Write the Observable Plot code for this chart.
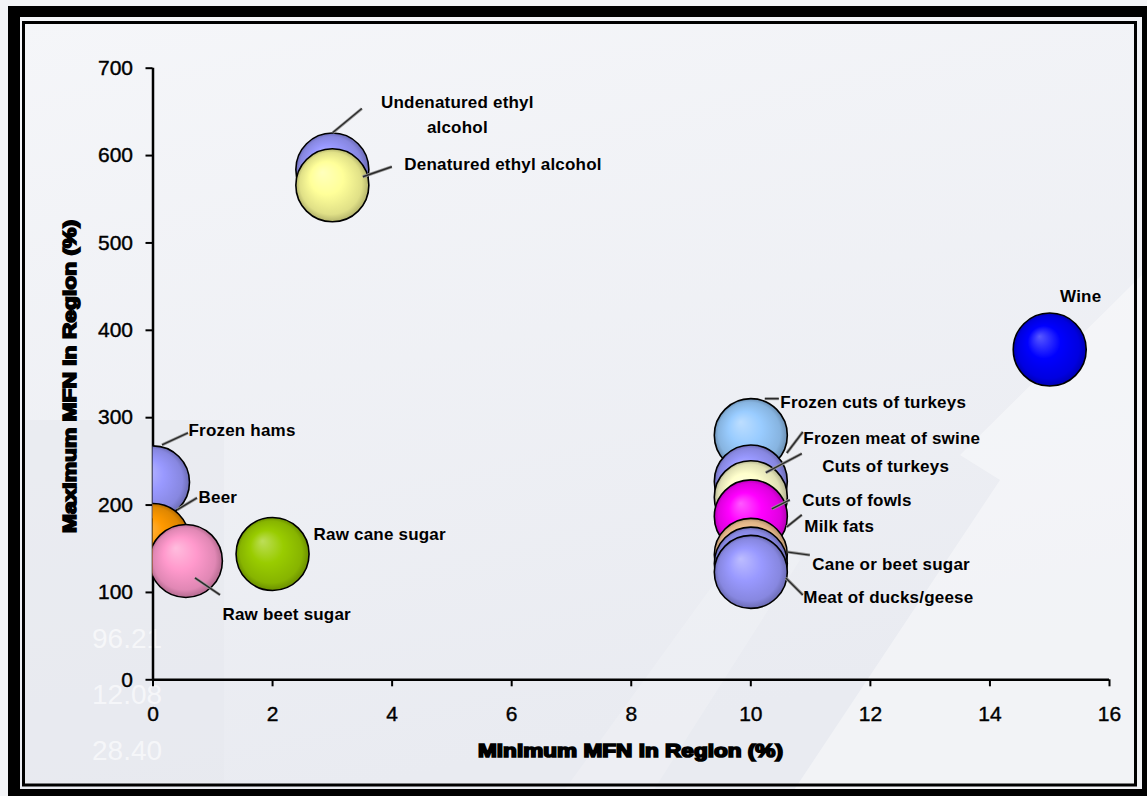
<!DOCTYPE html>
<html>
<head>
<meta charset="utf-8">
<script src="https://cdn.jsdelivr.net/npm/d3@7"></script>
<script src="https://cdn.jsdelivr.net/npm/@observablehq/plot@0.6"></script>
<style>
  body { margin: 0; background: #f3f4f7; }
  #wrap { position: relative; width: 1147px; height: 796px; overflow: hidden; }
  #bg, #chart, #frame { position: absolute; left: 0; top: 0; }
</style>
</head>
<body>
<div id="wrap">
  <svg id="bg" width="1147" height="796"></svg>
  <div id="chart"></div>
  <svg id="frame" width="1147" height="796" style="pointer-events:none"></svg>
</div>
<script>
// ---------------- data ----------------
const products = [
  "Undenatured ethyl\nalcohol", "Denatured ethyl alcohol", "Wine",
  "Frozen cuts of turkeys", "Frozen meat of swine", "Cuts of turkeys",
  "Cuts of fowls", "Milk fats", "Cane or beet sugar", "Meat of ducks/geese",
  "Frozen hams", "Beer", "Raw cane sugar", "Raw beet sugar"
];
const minMFN = [3, 3, 15, 10, 10, 10, 10, 10, 10, 10, 0, 0, 2, 0.55];
const maxMFN = [584, 566, 378, 280, 227, 209, 187, 143, 133, 123.5, 226, 160, 144, 136];
const bubbleColors = [
  "#9999ff", "#ffff99", "#0000ff",
  "#99ccff", "#9999ff", "#ffffcc",
  "#ff00ff", "#ffcc99", "#9999ff", "#9999ff",
  "#9999ff", "#ff9900", "#99cc00", "#ff99cc"
];
const xTicks = [0, 2, 4, 6, 8, 10, 12, 14, 16];
const yTicks = [0, 100, 200, 300, 400, 500, 600, 700];
const xTitle = "Minimum MFN in Region (%)";
const yTitle = "Maximum MFN in Region (%)";
const watermarkNumbers = ["96.21", "12.08", "28.40"];

// ---------------- label layout (pixel offsets from bubble centre) ----------------
const labelLayout = [
  {dx: 125, dy: -57, anchor: "middle", leader: [1, -36.5, 30, -60.5]},
  {dx: 72, dy: -23, anchor: "start", leader: [31, -8, 60, -18]},
  {dx: 31, dy: -56, anchor: "middle", leader: null},
  {dx: 29.5, dy: -35, anchor: "start", leader: [14.5, -36, 28.5, -36]},
  {dx: 52.5, dy: -45, anchor: "start", leader: [36.5, -28, 52.5, -49]},
  {dx: 71.5, dy: -33, anchor: "start", leader: [15.5, -24, 51.5, -43]},
  {dx: 51.5, dy: -18, anchor: "start", leader: [21.5, -7, 39.5, -16]},
  {dx: 53.5, dy: -30.5, anchor: "start", leader: [36.5, -27.5, 51.5, -39.5]},
  {dx: 61.5, dy: -2, anchor: "start", leader: [37.5, -11, 59.5, -8]},
  {dx: 52.5, dy: 23.5, anchor: "start", leader: [35.5, 6.5, 52.5, 23.5]},
  {dx: 35.5, dy: -54, anchor: "start", leader: [9.5, -37, 35.5, -49]},
  {dx: 45.5, dy: -44.6, anchor: "start", leader: [24.5, -29.6, 44.5, -41.6]},
  {dx: 41, dy: -21.6, anchor: "start", leader: null},
  {dx: 36.6, dy: 51.4, anchor: "start", leader: [9.6, 17.4, 34.6, 34.4]}
];

// ---------------- background & gradients ----------------
const bg = d3.select("#bg");
const defs = bg.append("defs");
const bgGrad = defs.append("linearGradient").attr("id", "bgGrad").attr("x1", 0).attr("y1", 0).attr("x2", 0.3).attr("y2", 1);
bgGrad.append("stop").attr("offset", "0%").attr("stop-color", "#f5f6f9");
bgGrad.append("stop").attr("offset", "100%").attr("stop-color", "#e9ebf1");
bubbleColors.forEach((c, i) => {
  const g = defs.append("radialGradient").attr("id", `bub${i}`)
    .attr("cx", "50%").attr("cy", "50%").attr("r", "50%").attr("fx", "36%").attr("fy", "32%");
  g.append("stop").attr("offset", "0%").attr("stop-color", d3.interpolateRgb(c, "#ffffff")(0.35));
  g.append("stop").attr("offset", "45%").attr("stop-color", c);
  g.append("stop").attr("offset", "85%").attr("stop-color", d3.interpolateRgb(c, "#000000")(0.12));
  g.append("stop").attr("offset", "100%").attr("stop-color", d3.interpolateRgb(c, "#000000")(0.3));
});
bg.append("rect").attr("width", 1147).attr("height", 796).attr("fill", "#f3f4f7");
bg.append("rect").attr("x", 20).attr("y", 17).attr("width", 1122).attr("height", 772).attr("fill", "url(#bgGrad)");
// faint watermark shapes (rising arrow)
bg.append("path").attr("d", "M790,796 L1000,480 L960,455 L1147,270 L1147,796 Z").attr("fill", "#ffffff").attr("opacity", 0.4);
bg.append("path").attr("d", "M560,796 L760,520 L800,560 L650,796 Z").attr("fill", "#ffffff").attr("opacity", 0.18);
bg.append("rect").attr("x", 24).attr("y", 420).attr("width", 200).attr("height", 362).attr("fill", "#e6e8ee").attr("opacity", 0.5);
watermarkNumbers.forEach((t, k) => {
  bg.append("text").attr("x", 92).attr("y", 648 + k * 56).text(t)
    .attr("font-family", "'Liberation Sans', Arial, sans-serif").attr("font-size", 28)
    .attr("fill", "#ffffff").attr("opacity", 0.6);
});

// ---------------- chart ----------------
const data = products.map((name, i) => ({name, x: minMFN[i], y: maxMFN[i], fill: `url(#bub${i})`}));

const labelMarks = data.map((d, i) => Plot.text([d], {
  x: "x", y: "y", text: "name",
  dx: labelLayout[i].dx, dy: labelLayout[i].dy,
  textAnchor: labelLayout[i].anchor, lineAnchor: "middle", lineHeight: 1.47,
  fontSize: 17, fontWeight: "bold", fill: "#000"
}));

const chart = Plot.plot({
  width: 1147, height: 796,
  marginLeft: 152.5, marginRight: 38, marginTop: 67.7, marginBottom: 116.7,
  style: {background: "transparent", fontFamily: "'Liberation Sans', Arial, sans-serif", fontSize: "21px", color: "#000", overflow: "visible"},
  x: {domain: [0, 16]},
  y: {domain: [0, 700]},
  color: {type: "identity"},
  marks: [
    Plot.axisX({ticks: xTicks, tickSize: 7, tickPadding: 19, strokeWidth: 2, label: null, fontSize: 21, tickFormat: d => String(d)}),
    Plot.axisY({ticks: yTicks, tickSize: 7, tickPadding: 13, strokeWidth: 2, label: null, fontSize: 21, tickFormat: d => String(d)}),
    Plot.ruleX([0], {stroke: "#000", strokeWidth: 2.5}),
    Plot.ruleY([0], {stroke: "#000", strokeWidth: 2.5}),
    Plot.dot(data, {x: "x", y: "y", r: 36.5, fill: "fill", stroke: "#000", strokeWidth: 1.6, clip: "frame"}),
    ...labelMarks
  ]
});
document.getElementById("chart").appendChild(chart);

const svg = d3.select(chart);
svg.selectAll('g[aria-label="text"] text').style("letter-spacing", "0.2px");
svg.selectAll('g[aria-label="x-axis tick label"] text, g[aria-label="y-axis tick label"] text')
  .attr("stroke", "#000").attr("stroke-width", 0.4);

const xs = chart.scale("x"), ys = chart.scale("y");
// leader lines
const leaders = svg.append("g").attr("aria-label", "leaders");
data.forEach((d, i) => {
  const L = labelLayout[i].leader;
  if (!L) return;
  const cx = xs.apply(d.x), cy = ys.apply(d.y);
  leaders.append("line")
    .attr("x1", cx + L[0]).attr("y1", cy + L[1]).attr("x2", cx + L[2]).attr("y2", cy + L[3])
    .attr("stroke", "#9a9a9a").attr("stroke-width", 3);
  leaders.append("line")
    .attr("x1", cx + L[0]).attr("y1", cy + L[1]).attr("x2", cx + L[2]).attr("y2", cy + L[3])
    .attr("stroke", "#2a2a2a").attr("stroke-width", 1.4);
});

// axis titles
const tfont = "'Liberation Sans', Arial, sans-serif";
svg.append("text").text(xTitle)
  .attr("x", 630.5).attr("y", 757).attr("text-anchor", "middle")
  .attr("font-family", tfont).attr("font-size", 18).attr("font-weight", "bold")
  .attr("stroke", "#000").attr("stroke-width", 1.6)
  .attr("textLength", 305).attr("lengthAdjust", "spacingAndGlyphs");
svg.append("text").text(yTitle)
  .attr("transform", "translate(76,376.5) rotate(-90)").attr("text-anchor", "middle")
  .attr("font-family", tfont).attr("font-size", 18).attr("font-weight", "bold")
  .attr("stroke", "#000").attr("stroke-width", 1.6)
  .attr("textLength", 313).attr("lengthAdjust", "spacingAndGlyphs");

// ---------------- frame ----------------
const fr = d3.select("#frame");
fr.append("path")
  .attr("d", "M8,6 H1160 V810 H8 Z M20,17 V789 H1142 V17 Z")
  .attr("fill", "#000").attr("fill-rule", "evenodd");
fr.append("rect").attr("x", 23.5).attr("y", 22.5).attr("width", 1112).attr("height", 762.5)
  .attr("fill", "none").attr("stroke", "#000").attr("stroke-width", 3);
</script>
</body>
</html>
